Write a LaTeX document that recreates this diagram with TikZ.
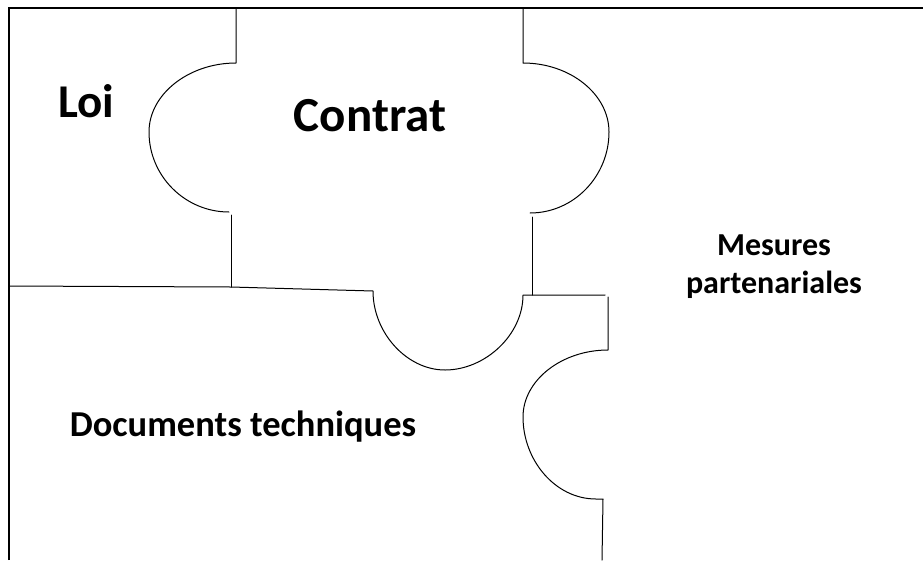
\documentclass[tikz,border=0pt]{standalone}
\usepackage{fontspec}
\setmainfont{Carlito}
\tikzset{
  piece/.style={line width=1pt,line cap=round,line join=round},
  label/.style={font=\bfseries,inner sep=0pt,anchor=base}
}
\begin{document}
\begin{tikzpicture}[x=1pt,y=-1pt]
\useasboundingbox (0,0) rectangle (923,560);

\draw[line width=1.5pt] (9,560) -- (9,8) -- (923,8);

\draw[piece] (236,8) -- (236,63)
  .. controls (189,63) and (149,94) .. (149,132)
  .. controls (149,176) and (185,212) .. (229,212);
\draw[piece] (231,215) -- (231,287);

\draw[piece] (9,286) -- (231,287) -- (373,291)
  .. controls (373,333) and (407,370) .. (445,370)
  .. controls (485,370) and (523,335) .. (523,295) -- (605,295);

\draw[piece] (523,8) -- (523,63)
  .. controls (570,63) and (609,94) .. (609,132)
  .. controls (609,176) and (574,213) .. (530,213);
\draw[piece] (532,217) -- (532,295);

\draw[piece] (608,297) -- (608,350)
  .. controls (562,350) and (523,380) .. (523,417)
  .. controls (523,460) and (555,499) .. (596,499) -- (603,499) -- (602,560);

\node[label,font=\bfseries\fontsize{47}{56}\selectfont] (loi) at (86,117) {Loi};
\node[label,font=\bfseries\fontsize{49}{58}\selectfont] (contrat) at (370,131) {Contrat};
\node[label,font=\bfseries\fontsize{36.5}{44}\selectfont] (docs) at (243,436) {Documents techniques};
\node[label,font=\bfseries\fontsize{32}{38}\selectfont,align=center] (mesures) at (774,293) {Mesures\\partenariales};
\end{tikzpicture}
\end{document}
